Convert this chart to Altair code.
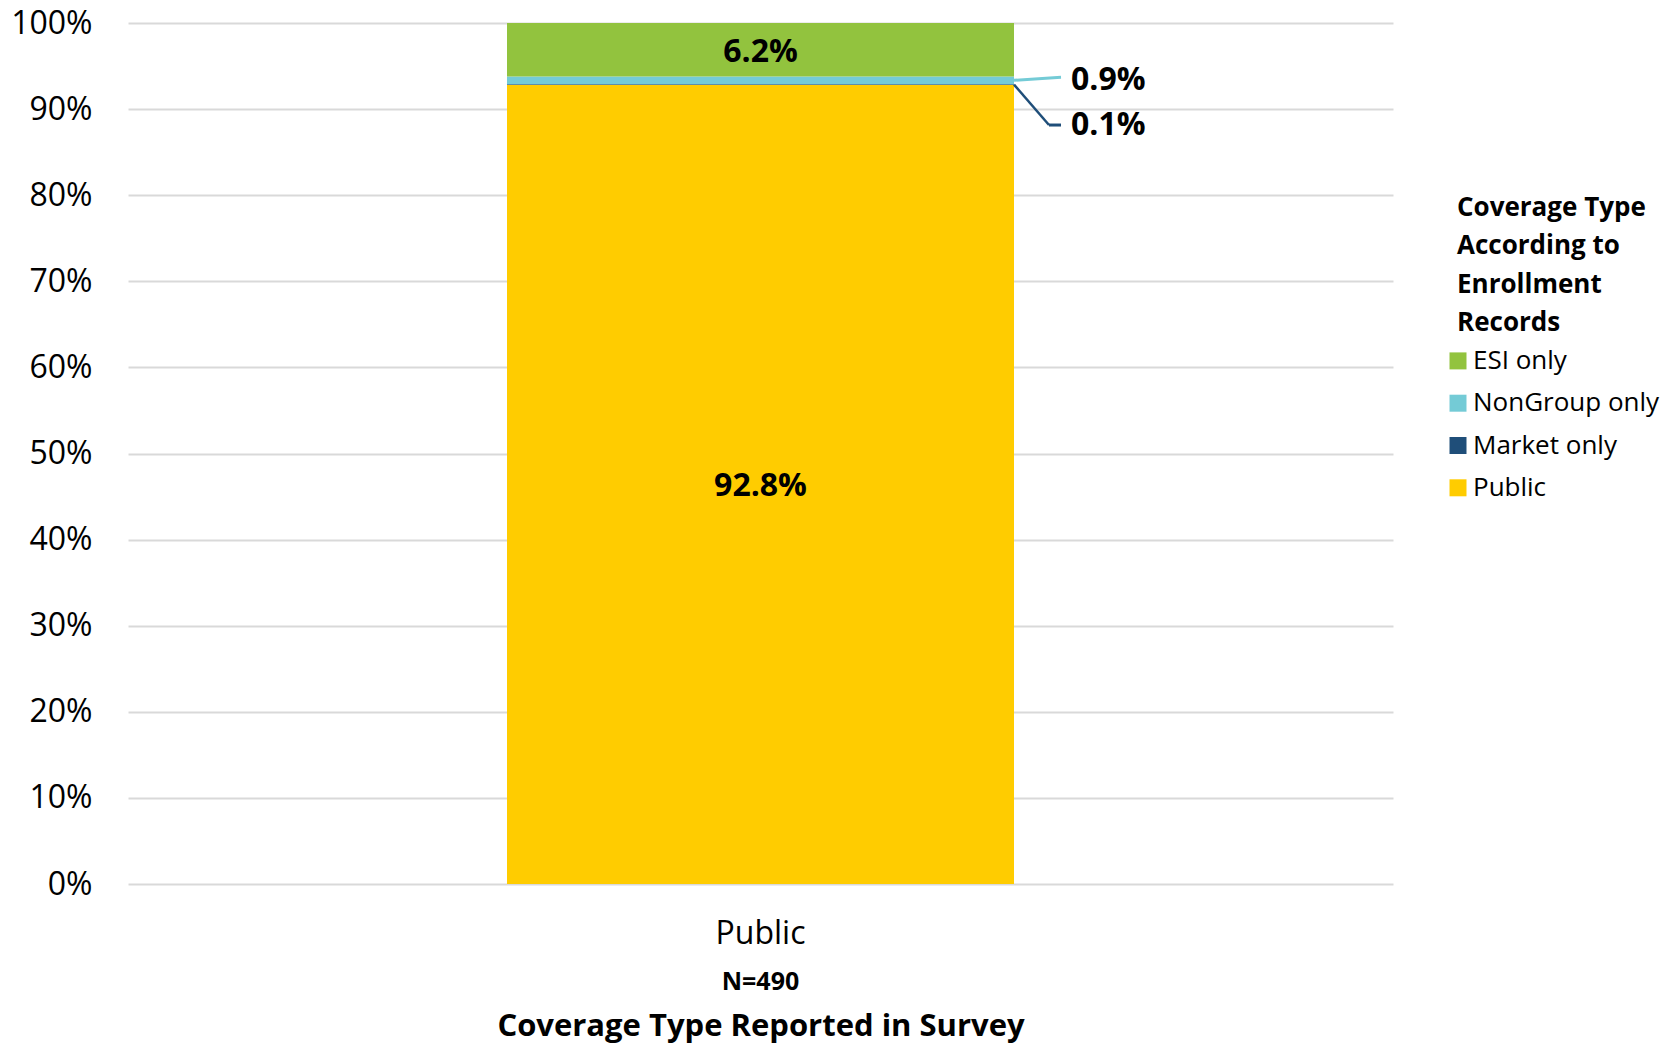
import altair as alt
import pandas as pd

# Survey answer group and its sample size
survey_group = "Public"
sample_size = 490

# Coverage type according to enrollment records (legend order, top of stack first)
coverage_types = ["ESI only", "NonGroup only", "Market only", "Public"]
shares = [6.2, 0.9, 0.1, 92.8]
palette = ["#92C33E", "#74CBD6", "#1F4E79", "#FFCC00"]

y_ticks = [0, 10, 20, 30, 40, 50, 60, 70, 80, 90, 100]

FONT = "Open Sans"

# Stack bottom-up: Public, Market only, NonGroup only, ESI only
rows = []
base = 0.0
for cov, val in reversed(list(zip(coverage_types, shares))):
    rows.append({
        "survey": survey_group,
        "coverage": cov,
        "share": val,
        "y0": base,
        "y1": base + val,
        "mid": base + val / 2,
        "label": f"{val:.1f}%",
    })
    base += val
stack = pd.DataFrame(rows)

inside = stack[stack["share"] >= 5]
thin = stack[stack["share"] < 5].set_index("coverage")

W, H = 1265, 861
BAR = 507
bar_right = W / 2 + BAR / 2

y_scale = alt.Scale(domain=[0, 100], nice=False, zero=True)

bars = alt.Chart(stack).mark_bar(size=BAR).encode(
    x=alt.X(
        "survey:N",
        title="Coverage Type Reported in Survey",
        axis=alt.Axis(
            labelAngle=0, labelFont=FONT, labelFontSize=32, labelColor="#000000",
            labelPadding=34, ticks=False, domain=False, grid=False,
            titleFont=FONT, titleFontSize=31, titleFontWeight="bold",
            titleColor="#000000", titlePadding=62,
        ),
    ),
    y=alt.Y(
        "y0:Q",
        scale=y_scale,
        title=None,
        axis=alt.Axis(
            values=y_ticks, labelExpr="datum.value + '%'",
            labelFont=FONT, labelFontSize=32, labelColor="#000000",
            labelPadding=36, ticks=False, domain=False,
            grid=True, gridColor="#D9D9D9", gridWidth=2,
        ),
    ),
    y2="y1:Q",
    color=alt.Color(
        "coverage:N",
        scale=alt.Scale(domain=coverage_types, range=palette),
        legend=alt.Legend(
            title=["Coverage Type", "According to", "Enrollment", "Records"],
            orient="none", legendX=1329, legendY=172,
            titleFont=FONT, titleFontSize=26, titleFontWeight="bold",
            titleColor="#000000", titleLineHeight=38.3, titlePadding=12,
            titleLimit=400, labelLimit=400,
            labelFont=FONT, labelFontSize=26, labelColor="#000000",
            symbolOffset=-12, labelOffset=2, rowPadding=16.3, padding=0,
            symbolType="square", symbolSize=289, symbolStrokeWidth=0,
        ),
    ),
)

inside_labels = alt.Chart(inside).mark_text(
    font=FONT, fontSize=32, fontWeight="bold", color="#000000",
    baseline="middle", dy=2
).encode(x="survey:N", y=alt.Y("mid:Q", scale=y_scale), text="label:N")

# Callouts for the two thin segments
ng = thin.loc["NonGroup only"]
mk = thin.loc["Market only"]
callouts = pd.DataFrame([
    {"coverage": "NonGroup only", "start": ng["mid"], "end": ng["mid"] + 0.35,
     "label_y": ng["mid"], "label": ng["label"]},
    {"coverage": "Market only", "start": mk["mid"], "end": mk["mid"] - 4.7,
     "label_y": mk["mid"] - 4.7, "label": mk["label"]},
])

ng_line = alt.Chart(callouts.iloc[[0]]).mark_rule(
    color=palette[1], strokeWidth=3
).encode(x=alt.value(bar_right), x2=alt.value(bar_right + 47),
         y=alt.Y("start:Q", scale=y_scale), y2="end:Q")

mk_diag = alt.Chart(callouts.iloc[[1]]).mark_rule(
    color=palette[2], strokeWidth=2.5
).encode(x=alt.value(bar_right), x2=alt.value(bar_right + 35),
         y=alt.Y("start:Q", scale=y_scale), y2="end:Q")

mk_tail = alt.Chart(callouts.iloc[[1]]).mark_rule(
    color=palette[2], strokeWidth=3
).encode(x=alt.value(bar_right + 35), x2=alt.value(bar_right + 47),
         y=alt.Y("end:Q", scale=y_scale))

callout_labels = alt.Chart(callouts).mark_text(
    font=FONT, fontSize=32, fontWeight="bold", color="#000000",
    align="left", baseline="middle"
).encode(x=alt.value(bar_right + 57), y=alt.Y("label_y:Q", scale=y_scale),
         text="label:N")

n_label = alt.Chart(pd.DataFrame({"survey": [survey_group],
                                  "n": [f"N={sample_size}"]})).mark_text(
    font=FONT, fontSize=25, fontWeight="bold", color="#000000", baseline="middle"
).encode(x="survey:N", y=alt.value(H + 98), text="n:N")

chart = alt.layer(
    bars, inside_labels, ng_line, mk_diag, mk_tail, callout_labels, n_label
).properties(
    width=W, height=H,
    autosize=alt.AutoSizeParams(type="none"),
    padding={"left": 128, "top": 23, "right": 1676 - 128 - W, "bottom": 1043 - 23 - H},
    background="#FFFFFF",
).configure_view(stroke=None)

chart.save("out.html", embed_options={"renderer": "svg", "actions": False})
